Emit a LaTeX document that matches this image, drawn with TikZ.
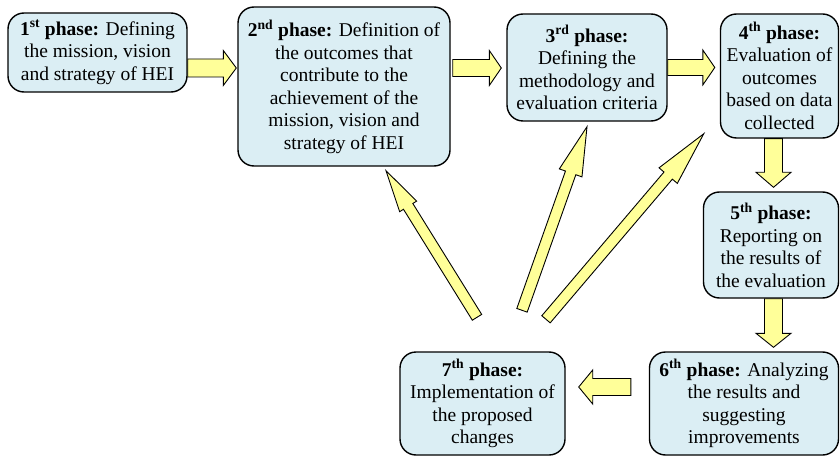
\documentclass[tikz,border=0pt]{standalone}
\usepackage{fontspec}
\setmainfont{Liberation Serif}
\usetikzlibrary{calc}

\definecolor{phasefill}{HTML}{DBEEF4}
\definecolor{arrowfill}{HTML}{FFFF99}

\newcommand{\blockarrow}[5]{%
  \path ($(#2)!#5pt!(#1)$) coordinate (hb);
  \draw[blockarr] ($(#1)!#3pt!90:(#2)$) -- ($(hb)!#3pt!90:(#2)$) -- ($(hb)!#4pt!90:(#2)$) -- (#2)
    -- ($(hb)!#4pt!-90:(#2)$) -- ($(hb)!#3pt!-90:(#2)$) -- ($(#1)!#3pt!-90:(#2)$) -- cycle;
}

\begin{document}
\begin{tikzpicture}[x=1pt, y=-1pt, every node/.style={font=\fontsize{19.5}{22.5}\selectfont}, phase/.style={draw, line width=1.4pt, rounded corners=16pt, fill=phasefill, align=center, inner sep=0pt}, blockarr/.style={draw, line width=0.9pt, fill=arrowfill, line join=miter}]
	\useasboundingbox (0,0) rectangle (840,457);
	\node[phase, minimum width=179, minimum height=79] (b1) at (97.5,52.5) {\textbf{1\textsuperscript{st} phase:} Defining\\ the mission, vision\\ and strategy of HEI};
	\node[phase, minimum width=212, minimum height=159] (b2) at (344,86.5) {\textbf{2\textsuperscript{nd} phase:} Definition of\\ the outcomes that\\ contribute to the\\ achievement of the\\ mission, vision and\\ strategy of HEI};
	\node[phase, minimum width=160, minimum height=107] (b3) at (587,67.5) {\textbf{3\textsuperscript{rd} phase:}\\ Defining the\\ methodology and\\ evaluation criteria};
	\node[phase, minimum width=118, minimum height=124] (b4) at (779.5,76) {\textbf{4\textsuperscript{th} phase:}\\ Evaluation of\\ outcomes\\ based on data\\ collected};
	\node[phase, minimum width=135, minimum height=106] (b5) at (771,245) {\textbf{5\textsuperscript{th} phase:}\\ Reporting on\\ the results of\\ the evaluation};
	\node[phase, minimum width=189, minimum height=103] (b6) at (744,403.5) {\textbf{6\textsuperscript{th} phase:} Analyzing\\ the results and\\ suggesting\\ improvements};
	\node[phase, minimum width=165, minimum height=103] (b7) at (482.5,403.5) {\textbf{7\textsuperscript{th} phase:}\\ Implementation of\\ the proposed\\ changes};
	\coordinate (s12) at (b1.east |- 0,68);
	\coordinate (t12) at ($(b2.west |- 0,68)+(-1,0)$);
	\coordinate (s23) at ($(b2.east |- 0,68)+(2,0)$);
	\coordinate (t23) at ($(b3.west |- 0,68)+(-5,0)$);
	\coordinate (s34) at (b3.east |- 0,67.5);
	\coordinate (t34) at ($(b4.west |- 0,67.5)+(-5,0)$);
	\coordinate (s45) at (b4.south -| 773.5,0);
	\coordinate (t45) at ($(b5.north -| 773.5,0)+(0,-4)$);
	\coordinate (s56) at (b5.south -| 773.5,0);
	\coordinate (t56) at ($(b6.north -| 773.5,0)+(0,-4)$);
	\coordinate (s67) at ($(b6.west |- 0,387)+(-18,0)$);
	\coordinate (t67) at ($(b7.east |- 0,387)+(13,0)$);
	\coordinate (s72) at ($(b7.north)+(-5.5,-34)$);
	\coordinate (t72) at ($(b2.south)+(42,4)$);
	\coordinate (s73) at ($(b7.north)+(39.5,-41)$);
	\coordinate (t73) at ($(b3.south)+(0,5)$);
	\coordinate (s74) at ($(b7.north)+(63.5,-32)$);
	\coordinate (t74) at ($(b4.south west)+(-16,-5)$);
	\blockarrow{s12}{t12}{9}{17.5}{13}
	\blockarrow{s23}{t23}{8.5}{17.5}{12}
	\blockarrow{s34}{t34}{8}{17.5}{12}
	\blockarrow{s45}{t45}{9}{17.5}{15}
	\blockarrow{s56}{t56}{9}{17.5}{14}
	\blockarrow{s67}{t67}{8.5}{17}{14}
	\blockarrow{s72}{t72}{5.5}{10}{42}
	\blockarrow{s73}{t73}{5.5}{12}{49}
	\blockarrow{s74}{t74}{5.5}{12}{55}
\end{tikzpicture}
\end{document}
